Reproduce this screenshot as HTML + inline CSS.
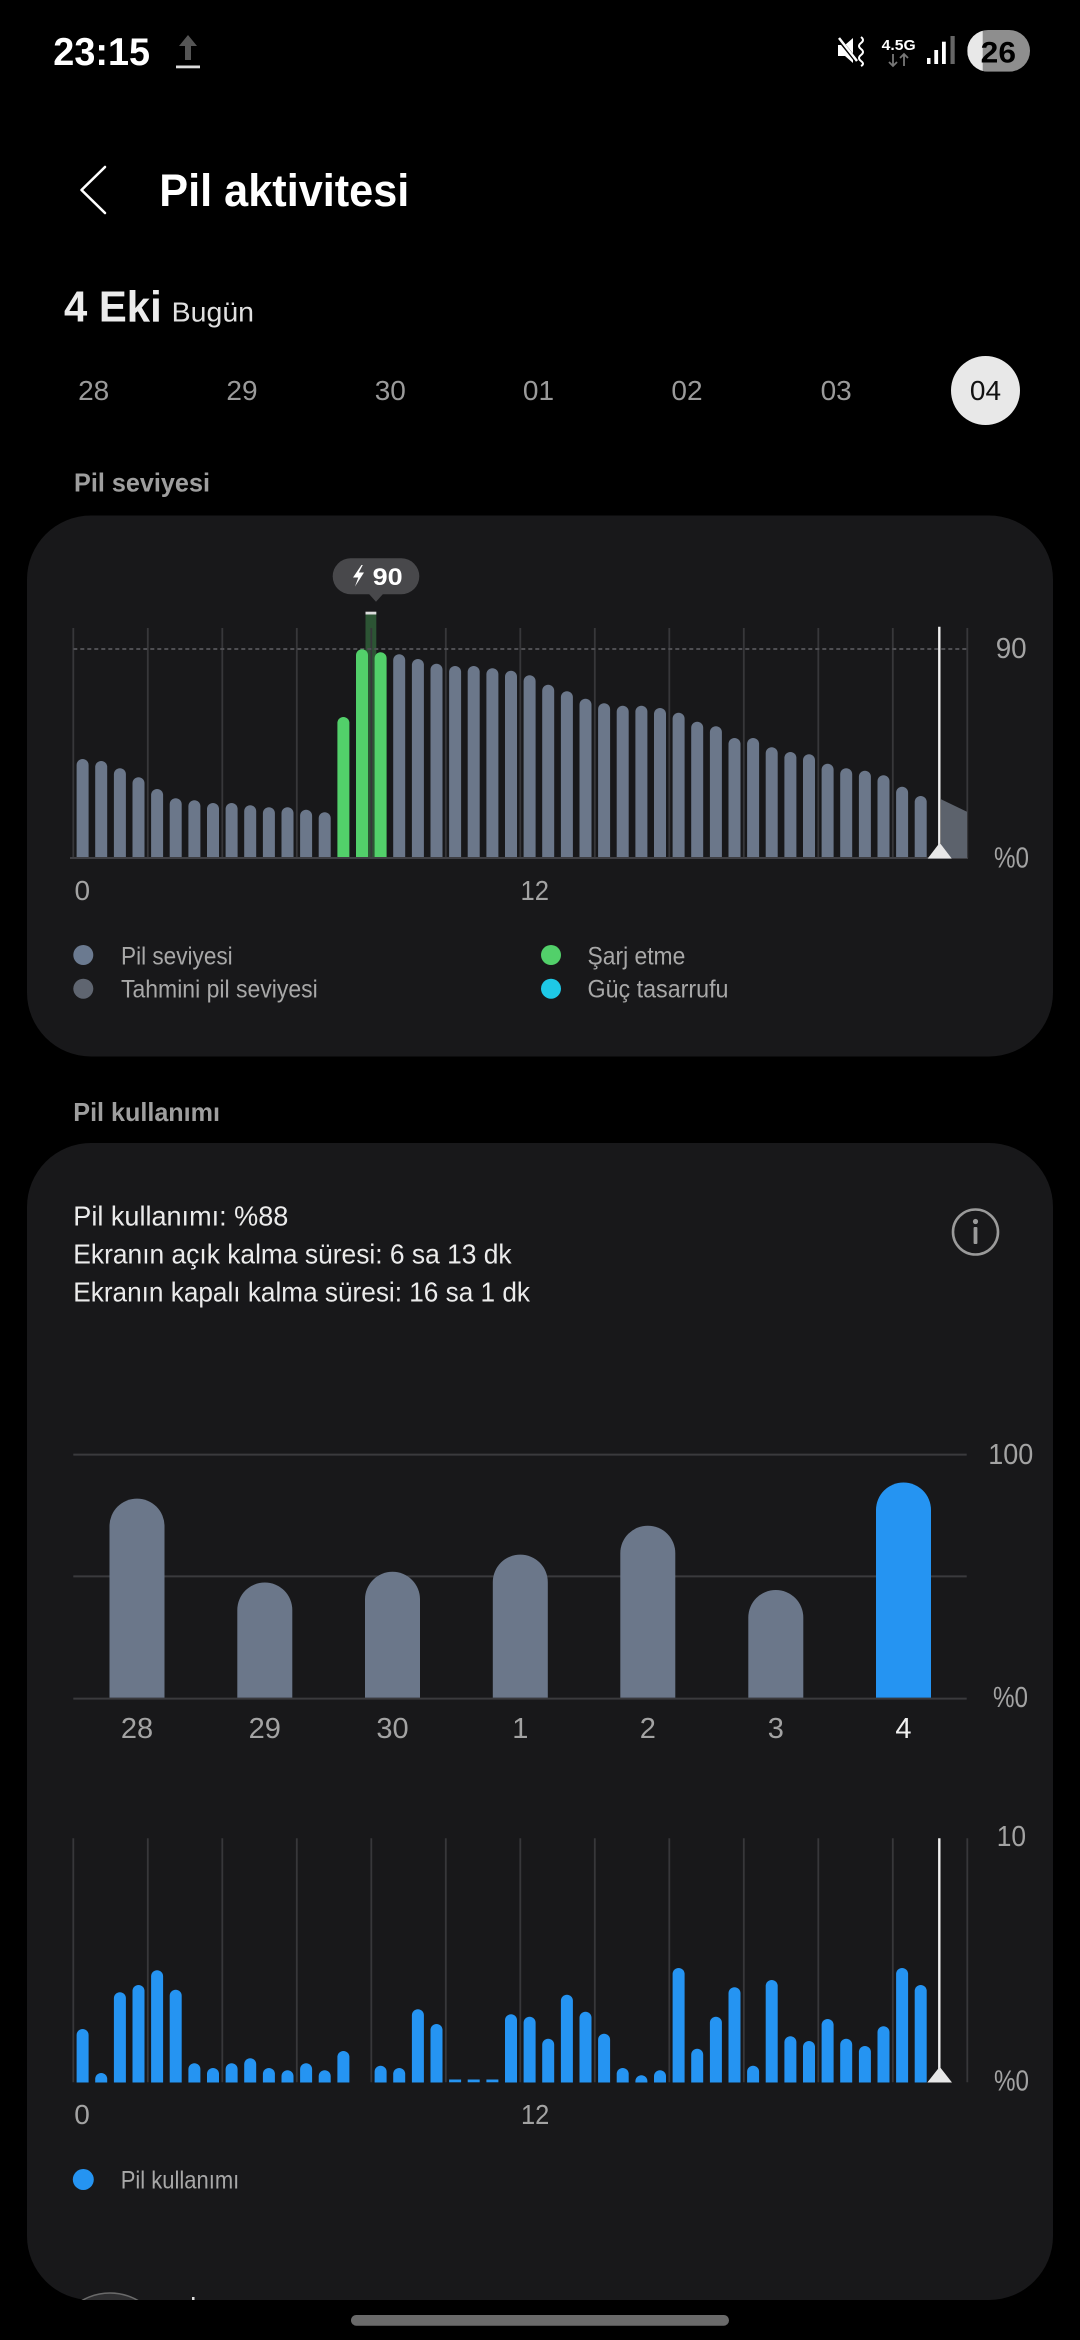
<!DOCTYPE html>
<html><head><meta charset="utf-8"><style>
html,body{margin:0;padding:0;background:#000;}
svg{display:block;}
text{font-family:"Liberation Sans",sans-serif;}
</style></head><body>
<svg width="1080" height="2340" viewBox="0 0 1080 2340" xmlns="http://www.w3.org/2000/svg">
<rect width="1080" height="2340" fill="#000"/>
<!-- status bar -->
<text x="53.3" y="65" font-size="39" font-weight="bold" fill="#fff" textLength="96.7" lengthAdjust="spacingAndGlyphs">23:15</text>
<polygon points="188,35 179,46 185,46 185,60 191,60 191,46 197,46" fill="#555"/>
<rect x="176" y="65.5" width="24" height="2.8" fill="#ddd"/>
<!-- mute -->
<polygon points="838,45 845,45 853,38 853,63 845,56 838,56" fill="#fff"/>
<line x1="838" y1="38" x2="858" y2="63" stroke="#000" stroke-width="4"/>
<line x1="839" y1="38" x2="857" y2="61" stroke="#fff" stroke-width="2.5"/>
<path d="M861,37 q4,3 0,6 q-4,3 0,6 q4,3 0,6 q-4,3 0,6 q4,3 0,5" fill="none" stroke="#fff" stroke-width="2"/>
<text x="881.7" y="50" font-size="15" font-weight="bold" fill="#fff" textLength="34" lengthAdjust="spacingAndGlyphs">4.5G</text>
<path d="M893,54 V66 M889,62 L893,66 L897,62 M904,66 V54 M900,58 L904,54 L908,58" stroke="#777" stroke-width="1.8" fill="none"/>
<rect x="927" y="58" width="3.5" height="6" fill="#fff"/>
<rect x="934.3" y="50" width="3.8" height="14" fill="#fff"/>
<rect x="942" y="41.7" width="3.8" height="22.3" fill="#fff"/>
<rect x="950.5" y="36" width="4.2" height="28" fill="#666"/>
<clipPath id="bat"><rect x="967.3" y="30" width="62.7" height="41.7" rx="20.8"/></clipPath>
<g clip-path="url(#bat)">
<rect x="967.3" y="30" width="62.7" height="41.7" fill="#8e8e8e"/>
<rect x="967.3" y="30" width="15.4" height="41.7" fill="#e8e8e8"/>
</g>
<text x="980.7" y="62.7" font-size="30" font-weight="bold" fill="#000" textLength="35.3" lengthAdjust="spacingAndGlyphs">26</text>

<!-- header -->
<polyline points="105,167 81.5,190 105,213" fill="none" stroke="#fff" stroke-width="2.6" stroke-linecap="round" stroke-linejoin="round"/>
<text x="159.3" y="206" font-size="45" font-weight="bold" fill="#fff" textLength="250" lengthAdjust="spacingAndGlyphs">Pil aktivitesi</text>
<text x="64" y="321.7" font-size="44" font-weight="bold" fill="#ececec" textLength="97.7" lengthAdjust="spacingAndGlyphs">4 Eki</text>
<text x="171.7" y="321.7" font-size="28" fill="#e0e0e0" textLength="82.3" lengthAdjust="spacingAndGlyphs">Bugün</text>
<g font-size="28" fill="#9a9a9a" text-anchor="middle">
<text x="93.7" y="400">28</text>
<text x="242" y="400">29</text>
<text x="390.3" y="400">30</text>
<text x="538.5" y="400">01</text>
<text x="687" y="400">02</text>
<text x="836.2" y="400">03</text>
</g>
<circle cx="985.5" cy="390.5" r="34.5" fill="#e8e8e8"/>
<text x="985.5" y="400" font-size="28" fill="#111" text-anchor="middle">04</text>
<text x="74" y="491.7" font-size="26" font-weight="bold" fill="#9e9e9e" textLength="136" lengthAdjust="spacingAndGlyphs">Pil seviyesi</text>

<!-- card 1 -->
<rect x="27" y="515.5" width="1026" height="541" rx="64" fill="#18181a"/>
<!-- charging highlight column -->
<rect x="365.5" y="612" width="10.8" height="246" fill="#2c5434"/>
<rect x="365.5" y="611.7" width="10.8" height="2.8" fill="#ddd"/>
<!-- grid -->
<g stroke="#37373a" stroke-width="1.8">
<line x1="73.3" y1="628" x2="73.3" y2="858"/><line x1="147.8" y1="628" x2="147.8" y2="858"/><line x1="222.3" y1="628" x2="222.3" y2="858"/><line x1="296.8" y1="628" x2="296.8" y2="858"/><line x1="371.3" y1="628" x2="371.3" y2="858"/><line x1="445.8" y1="628" x2="445.8" y2="858"/><line x1="520.3" y1="628" x2="520.3" y2="858"/><line x1="594.8" y1="628" x2="594.8" y2="858"/><line x1="669.3" y1="628" x2="669.3" y2="858"/><line x1="743.8" y1="628" x2="743.8" y2="858"/><line x1="818.3" y1="628" x2="818.3" y2="858"/><line x1="892.8" y1="628" x2="892.8" y2="858"/><line x1="967.3" y1="628" x2="967.3" y2="858"/>
</g>
<line x1="73.3" y1="649" x2="967.3" y2="649" stroke="#4e4e52" stroke-width="2" stroke-dasharray="4 3"/>
<!-- bars chart 1 -->
<g stroke="#6b778a" stroke-width="12" stroke-linecap="round">
<line x1="82.6" y1="858" x2="82.6" y2="765"/>
<line x1="101.2" y1="858" x2="101.2" y2="767"/>
<line x1="119.9" y1="858" x2="119.9" y2="774.3"/>
<line x1="138.5" y1="858" x2="138.5" y2="783.3"/>
<line x1="157.1" y1="858" x2="157.1" y2="795"/>
<line x1="175.7" y1="858" x2="175.7" y2="804.3"/>
<line x1="194.4" y1="858" x2="194.4" y2="806.3"/>
<line x1="213.0" y1="858" x2="213.0" y2="809"/>
<line x1="231.6" y1="858" x2="231.6" y2="809"/>
<line x1="250.2" y1="858" x2="250.2" y2="811.3"/>
<line x1="268.9" y1="858" x2="268.9" y2="813.3"/>
<line x1="287.5" y1="858" x2="287.5" y2="813.3"/>
<line x1="306.1" y1="858" x2="306.1" y2="815.7"/>
<line x1="324.7" y1="858" x2="324.7" y2="818.3"/>
<line x1="399.2" y1="858" x2="399.2" y2="660.3"/>
<line x1="417.9" y1="858" x2="417.9" y2="665"/>
<line x1="436.5" y1="858" x2="436.5" y2="669.7"/>
<line x1="455.1" y1="858" x2="455.1" y2="672"/>
<line x1="473.7" y1="858" x2="473.7" y2="672"/>
<line x1="492.4" y1="858" x2="492.4" y2="674.3"/>
<line x1="511.0" y1="858" x2="511.0" y2="676.7"/>
<line x1="529.6" y1="858" x2="529.6" y2="681.3"/>
<line x1="548.2" y1="858" x2="548.2" y2="690.7"/>
<line x1="566.9" y1="858" x2="566.9" y2="697.3"/>
<line x1="585.5" y1="858" x2="585.5" y2="704.7"/>
<line x1="604.1" y1="858" x2="604.1" y2="709.3"/>
<line x1="622.7" y1="858" x2="622.7" y2="711.7"/>
<line x1="641.4" y1="858" x2="641.4" y2="711.7"/>
<line x1="660.0" y1="858" x2="660.0" y2="714"/>
<line x1="678.6" y1="858" x2="678.6" y2="718.7"/>
<line x1="697.2" y1="858" x2="697.2" y2="727.7"/>
<line x1="715.9" y1="858" x2="715.9" y2="732.3"/>
<line x1="734.5" y1="858" x2="734.5" y2="744"/>
<line x1="753.1" y1="858" x2="753.1" y2="744"/>
<line x1="771.7" y1="858" x2="771.7" y2="753.3"/>
<line x1="790.4" y1="858" x2="790.4" y2="758"/>
<line x1="809.0" y1="858" x2="809.0" y2="760.3"/>
<line x1="827.6" y1="858" x2="827.6" y2="769.7"/>
<line x1="846.2" y1="858" x2="846.2" y2="774.3"/>
<line x1="864.9" y1="858" x2="864.9" y2="776.7"/>
<line x1="883.5" y1="858" x2="883.5" y2="781.3"/>
<line x1="902.1" y1="858" x2="902.1" y2="792.7"/>
<line x1="920.7" y1="858" x2="920.7" y2="802"/>
</g>
<g stroke="#52d06a" stroke-width="12" stroke-linecap="round">
<line x1="343.4" y1="858" x2="343.4" y2="723"/>
<line x1="362.0" y1="858" x2="362.0" y2="655.3"/>
<line x1="380.6" y1="858" x2="380.6" y2="658.3"/>
</g>
<rect x="70" y="858.5" width="900" height="8" fill="#18181a"/>
<line x1="70" y1="858" x2="968" y2="858" stroke="#3f3f43" stroke-width="2"/>
<polygon points="941,799.3 967,811.7 967,858 941,858" fill="#5c626c"/>
<line x1="939.3" y1="626.7" x2="939.3" y2="858" stroke="#f0f0f0" stroke-width="2.4"/>
<polygon points="927.7,858.5 951.7,858.5 939.7,842.7" fill="#e8e8e8"/>
<!-- tooltip -->
<rect x="332.7" y="558.3" width="86.6" height="36" rx="18" fill="#48484b"/>
<polygon points="369,594 383,594 376,601.7" fill="#48484b"/>
<polygon points="361.5,565 353,577.5 358.3,577.5 355,586.5 364,572.5 358.8,572.5 362.8,565" fill="#fff"/>
<text x="372.7" y="585" font-size="24" font-weight="bold" fill="#fff" textLength="30" lengthAdjust="spacingAndGlyphs">90</text>
<!-- axis labels chart1 -->
<g font-size="29" fill="#a3a3a3">
<text x="995.7" y="658" textLength="31" lengthAdjust="spacingAndGlyphs">90</text>
<text x="994" y="867.3" textLength="35" lengthAdjust="spacingAndGlyphs">%0</text>
</g>
<g font-size="28" fill="#a3a3a3">
<text x="74.5" y="900">0</text>
<text x="520.5" y="900" textLength="28.5" lengthAdjust="spacingAndGlyphs">12</text>
</g>
<!-- legend 1 -->
<circle cx="83.3" cy="955" r="10" fill="#6b7a90"/>
<circle cx="83.3" cy="988.7" r="10" fill="#5f6570"/>
<circle cx="551" cy="955" r="10" fill="#52d06a"/>
<circle cx="551" cy="988.7" r="10" fill="#1ec8e6"/>
<g font-size="25" fill="#a8a8a8">
<text x="121" y="964.3" textLength="111.7" lengthAdjust="spacingAndGlyphs">Pil seviyesi</text>
<text x="121" y="997.7" textLength="196.7" lengthAdjust="spacingAndGlyphs">Tahmini pil seviyesi</text>
<text x="587.5" y="964.3" textLength="97.8" lengthAdjust="spacingAndGlyphs">Şarj etme</text>
<text x="587.5" y="997.7" textLength="141" lengthAdjust="spacingAndGlyphs">Güç tasarrufu</text>
</g>

<text x="73.3" y="1121" font-size="26" font-weight="bold" fill="#9e9e9e" textLength="146.7" lengthAdjust="spacingAndGlyphs">Pil kullanımı</text>

<!-- card 2 -->
<rect x="27" y="1143" width="1026" height="1157" rx="64" fill="#18181a"/>
<g font-size="28" fill="#ebebeb">
<text x="73.3" y="1225.7" textLength="215" lengthAdjust="spacingAndGlyphs">Pil kullanımı: %88</text>
<text x="73.3" y="1263.6" textLength="438.3" lengthAdjust="spacingAndGlyphs">Ekranın açık kalma süresi: 6 sa 13 dk</text>
<text x="73.3" y="1301.4" textLength="456.7" lengthAdjust="spacingAndGlyphs">Ekranın kapalı kalma süresi: 16 sa 1 dk</text>
</g>
<circle cx="975.5" cy="1232" r="22.5" fill="none" stroke="#9a9a9a" stroke-width="2.6"/>
<circle cx="975.5" cy="1221.5" r="2.6" fill="#9a9a9a"/>
<rect x="973.6" y="1227" width="3.8" height="17" rx="1" fill="#9a9a9a"/>
<!-- chart 2 -->
<g stroke="#3a3a3d" stroke-width="2">
<line x1="73.3" y1="1454.6" x2="966.7" y2="1454.6"/>
<line x1="73.3" y1="1576.4" x2="966.7" y2="1576.4"/>
<line x1="73.3" y1="1698.6" x2="966.7" y2="1698.6"/>
</g>
<g fill="#6b778a">
<path d="M109.5,1697.6 V1526.1 A27.5,27.5 0 0 1 164.5,1526.1 V1697.6 Z"/>
<path d="M237.3,1697.6 V1610 A27.5,27.5 0 0 1 292.3,1610 V1697.6 Z"/>
<path d="M365,1697.6 V1599.3 A27.5,27.5 0 0 1 420,1599.3 V1697.6 Z"/>
<path d="M492.8,1697.6 V1582.1 A27.5,27.5 0 0 1 547.8,1582.1 V1697.6 Z"/>
<path d="M620.3,1697.6 V1553.2 A27.5,27.5 0 0 1 675.3,1553.2 V1697.6 Z"/>
<path d="M748.3,1697.6 V1617.5 A27.5,27.5 0 0 1 803.3,1617.5 V1697.6 Z"/>
</g>
<path d="M876,1697.6 V1510 A27.5,27.5 0 0 1 931,1510 V1697.6 Z" fill="#2594f2"/>
<g font-size="29" fill="#a3a3a3" text-anchor="middle">
<text x="137" y="1738">28</text>
<text x="264.8" y="1738">29</text>
<text x="392.5" y="1738">30</text>
<text x="520.3" y="1738">1</text>
<text x="647.8" y="1738">2</text>
<text x="775.8" y="1738">3</text>
<text x="903.5" y="1738" fill="#f0f0f0">4</text>
</g>
<g font-size="29" fill="#a3a3a3">
<text x="988.3" y="1464" textLength="45" lengthAdjust="spacingAndGlyphs">100</text>
<text x="993" y="1707" textLength="35" lengthAdjust="spacingAndGlyphs">%0</text>
</g>
<!-- chart 3 -->
<g stroke="#37373a" stroke-width="1.8">
<line x1="73.3" y1="1838.3" x2="73.3" y2="2082.3"/><line x1="147.8" y1="1838.3" x2="147.8" y2="2082.3"/><line x1="222.3" y1="1838.3" x2="222.3" y2="2082.3"/><line x1="296.8" y1="1838.3" x2="296.8" y2="2082.3"/><line x1="371.3" y1="1838.3" x2="371.3" y2="2082.3"/><line x1="445.8" y1="1838.3" x2="445.8" y2="2082.3"/><line x1="520.3" y1="1838.3" x2="520.3" y2="2082.3"/><line x1="594.8" y1="1838.3" x2="594.8" y2="2082.3"/><line x1="669.3" y1="1838.3" x2="669.3" y2="2082.3"/><line x1="743.8" y1="1838.3" x2="743.8" y2="2082.3"/><line x1="818.3" y1="1838.3" x2="818.3" y2="2082.3"/><line x1="892.8" y1="1838.3" x2="892.8" y2="2082.3"/><line x1="967.3" y1="1838.3" x2="967.3" y2="2082.3"/>
</g>
<g stroke="#2594f2" stroke-width="12" stroke-linecap="round">
<line x1="82.6" y1="2082.3" x2="82.6" y2="2035"/>
<line x1="101.2" y1="2082.3" x2="101.2" y2="2079"/>
<line x1="119.9" y1="2082.3" x2="119.9" y2="1998.3"/>
<line x1="138.5" y1="2082.3" x2="138.5" y2="1991"/>
<line x1="157.1" y1="2082.3" x2="157.1" y2="1976.3"/>
<line x1="175.7" y1="2082.3" x2="175.7" y2="1995.7"/>
<line x1="194.4" y1="2082.3" x2="194.4" y2="2069.3"/>
<line x1="213.0" y1="2082.3" x2="213.0" y2="2074"/>
<line x1="231.6" y1="2082.3" x2="231.6" y2="2069.3"/>
<line x1="250.2" y1="2082.3" x2="250.2" y2="2064.3"/>
<line x1="268.9" y1="2082.3" x2="268.9" y2="2074"/>
<line x1="287.5" y1="2082.3" x2="287.5" y2="2076.3"/>
<line x1="306.1" y1="2082.3" x2="306.1" y2="2069.3"/>
<line x1="324.7" y1="2082.3" x2="324.7" y2="2076.3"/>
<line x1="343.4" y1="2082.3" x2="343.4" y2="2057"/>
<line x1="380.6" y1="2082.3" x2="380.6" y2="2071.7"/>
<line x1="399.2" y1="2082.3" x2="399.2" y2="2074"/>
<line x1="417.9" y1="2082.3" x2="417.9" y2="2015.3"/>
<line x1="436.5" y1="2082.3" x2="436.5" y2="2030"/>
<line x1="511.0" y1="2082.3" x2="511.0" y2="2020.3"/>
<line x1="529.6" y1="2082.3" x2="529.6" y2="2022.7"/>
<line x1="548.2" y1="2082.3" x2="548.2" y2="2044.7"/>
<line x1="566.9" y1="2082.3" x2="566.9" y2="2000.7"/>
<line x1="585.5" y1="2082.3" x2="585.5" y2="2017.7"/>
<line x1="604.1" y1="2082.3" x2="604.1" y2="2039.7"/>
<line x1="622.7" y1="2082.3" x2="622.7" y2="2074"/>
<line x1="641.4" y1="2082.3" x2="641.4" y2="2081.3"/>
<line x1="660.0" y1="2082.3" x2="660.0" y2="2076.3"/>
<line x1="678.6" y1="2082.3" x2="678.6" y2="1974"/>
<line x1="697.2" y1="2082.3" x2="697.2" y2="2054.7"/>
<line x1="715.9" y1="2082.3" x2="715.9" y2="2022.7"/>
<line x1="734.5" y1="2082.3" x2="734.5" y2="1993.3"/>
<line x1="753.1" y1="2082.3" x2="753.1" y2="2071.7"/>
<line x1="771.7" y1="2082.3" x2="771.7" y2="1986"/>
<line x1="790.4" y1="2082.3" x2="790.4" y2="2042.3"/>
<line x1="809.0" y1="2082.3" x2="809.0" y2="2047"/>
<line x1="827.6" y1="2082.3" x2="827.6" y2="2025"/>
<line x1="846.2" y1="2082.3" x2="846.2" y2="2044.7"/>
<line x1="864.9" y1="2082.3" x2="864.9" y2="2052"/>
<line x1="883.5" y1="2082.3" x2="883.5" y2="2032.3"/>
<line x1="902.1" y1="2082.3" x2="902.1" y2="1974"/>
<line x1="920.7" y1="2082.3" x2="920.7" y2="1991"/>
</g>
<rect x="70" y="2082.5" width="900" height="8" fill="#18181a"/>
<g fill="#2594f2">
<rect x="449.1" y="2079.5" width="12" height="2.8"/>
<rect x="467.7" y="2079.5" width="12" height="2.8"/>
<rect x="486.4" y="2079.5" width="12" height="2.8"/>
</g>
<line x1="939.3" y1="1838.3" x2="939.3" y2="2082.3" stroke="#f0f0f0" stroke-width="2.4"/>
<polygon points="927.3,2082.5 952,2082.5 939.7,2066.7" fill="#e8e8e8"/>
<g font-size="29" fill="#a3a3a3">
<text x="996.7" y="1846" textLength="29.3" lengthAdjust="spacingAndGlyphs">10</text>
<text x="994" y="2090.7" textLength="35" lengthAdjust="spacingAndGlyphs">%0</text>
</g>
<g font-size="28" fill="#a3a3a3">
<text x="74.3" y="2124">0</text>
<text x="521" y="2124" textLength="28.3" lengthAdjust="spacingAndGlyphs">12</text>
</g>
<circle cx="83.3" cy="2179.5" r="10.5" fill="#2594f2"/>
<text x="120.7" y="2188.3" font-size="25" fill="#a8a8a8" textLength="118.6" lengthAdjust="spacingAndGlyphs">Pil kullanımı</text>
<!-- partial next item -->
<clipPath id="cut"><rect x="27" y="2200" width="1026" height="100"/></clipPath>
<g clip-path="url(#cut)">
<circle cx="110" cy="2349" r="56" fill="#2e2e30" stroke="#6a6a6a" stroke-width="1.5"/>
<rect x="192" y="2297" width="2.5" height="3" fill="#ddd"/>
</g>
<!-- nav pill -->
<rect x="351" y="2315" width="378" height="10.7" rx="5.3" fill="#6a6a6a"/>
</svg>
</body></html>
